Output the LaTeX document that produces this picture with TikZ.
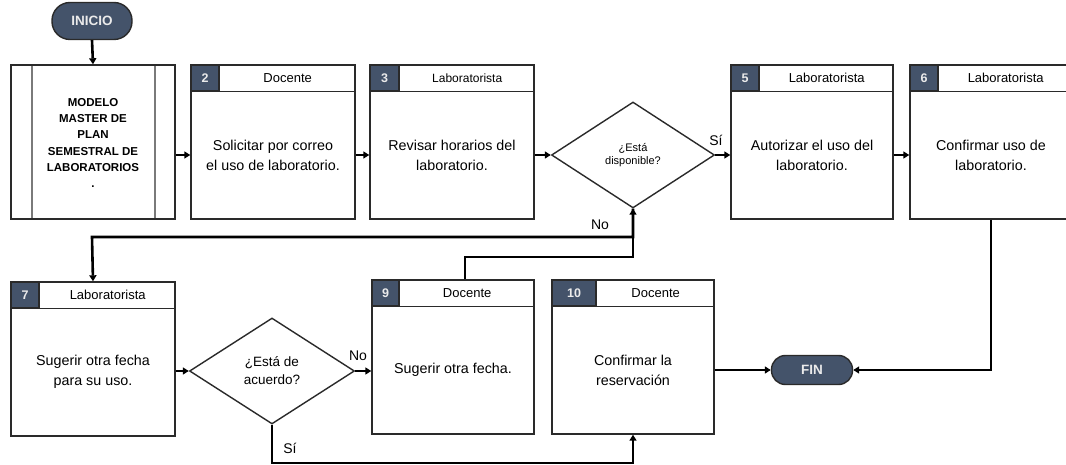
\documentclass[tikz,border=0pt]{standalone}
\usepackage{fontspec}
\setmainfont{Liberation Sans}
\usetikzlibrary{shapes.geometric,arrows.meta,calc}

\definecolor{slate}{HTML}{44536A}
\definecolor{rim}{HTML}{2A2A2A}
\definecolor{barline}{HTML}{7A7A7A}

\tikzset{
  card/.style={draw=rim, line width=1.4pt, fill=white, inner sep=0pt},
  numcell/.style={draw=rim, line width=1.4pt, fill=slate, inner sep=0pt,
    minimum height=26pt, text=white!92!black, font=\bfseries\fontsize{12.5}{14}\selectfont},
  roletext/.style={inner sep=0pt, font=\fontsize{13}{15}\selectfont},
  bodytext/.style={inner sep=0pt, align=center, font=\fontsize{14.3}{20}\selectfont},
  decision/.style={diamond, draw=rim, line width=1.4pt, inner sep=0pt, align=center},
  terminal/.style={draw=rim, line width=1.4pt, fill=slate, rounded corners=14pt,
    inner sep=0pt, text=white!92!black, font=\bfseries\fontsize{13.5}{15}\selectfont},
  conn/.style={draw=black, line width=2.6pt, -{Triangle[length=6pt,width=7pt]}},
  edgelabel/.style={inner sep=0pt, font=\fontsize{14}{16}\selectfont},
}

% card with a numbered header: name, cx, cy, width, height, number width, number, role, role font size
\newcommand\stepcard[9]{%
  \node[card, minimum width=#4pt, minimum height=#5pt] (#1) at (#2,#3) {};
  \node[numcell, minimum width=#6pt, anchor=north west] (#1-n) at (#1.north west) {#7};
  \draw[rim, line width=1.4pt] (#1-n.south east) -- (#1-n.south -| #1.east);
  \node[roletext] (#1-r) at ($(#1-n.east)!0.5!(#1-n.east -| #1.east)$) {\fontsize{#9}{15}\selectfont #8};
}
% body text of a card, centred below its header
\newcommand\cardbody[4]{%
  \node[bodytext] (#1-t) at (#2,{#3+13}) {#4};
}

\begin{document}
\begin{tikzpicture}[x=1pt,y=-1pt]
\clip (0,0) rectangle (1066,465);
\fill[white] (0,0) rectangle (1066,465);

% start and end
\node[terminal, minimum width=80pt, minimum height=37pt, rounded corners=18pt] (ini) at (92,21) {INICIO};
\node[terminal, minimum width=81pt, minimum height=29pt] (fin) at (812,370) {FIN};

% predefined process
\node[card, minimum width=164pt, minimum height=154pt] (b1) at (93,142) {};
\draw[barline, line width=2pt] (32,66) -- (32,218) (155,66) -- (155,218);
\node[inner sep=0pt, align=center, font=\bfseries\fontsize{11.5}{16.3}\selectfont] (b1-t) at (93,143)
  {MODELO\\MASTER DE\\PLAN\\SEMESTRAL DE\\LABORATORIOS\\.};

% first row
\stepcard{b2}{273}{142}{164}{154}{28}{2}{Docente}{13}
\cardbody{b2}{273}{142}{Solicitar por correo\\el uso de laboratorio.}
\stepcard{b3}{452}{142}{164}{154}{29}{3}{Laboratorista}{12}
\cardbody{b3}{452}{142}{Revisar horarios del\\laboratorio.}
\node[decision, minimum width=163pt, minimum height=106pt,
  font=\fontsize{11}{13}\selectfont] (d1) at (633,155) {¿Está\\disponible?};
\stepcard{b5}{812}{142}{162}{154}{28}{5}{Laboratorista}{13}
\cardbody{b5}{812}{142}{Autorizar el uso del\\laboratorio.}
\stepcard{b6}{991}{142}{162}{154}{28}{6}{Laboratorista}{13}
\cardbody{b6}{991}{142}{Confirmar uso de\\laboratorio.}

% second row
\stepcard{b7}{93}{359}{164}{154}{28}{7}{Laboratorista}{13}
\cardbody{b7}{93}{359}{Sugerir otra fecha\\para su uso.}
\node[decision, minimum width=165pt, minimum height=106pt,
  font=\fontsize{13.5}{18}\selectfont] (d2) at (272,371) {¿Está de\\acuerdo?};
\stepcard{b9}{453}{357}{162}{154}{27}{9}{Docente}{13}
\cardbody{b9}{453}{357}{Sugerir otra fecha.}
\stepcard{b10}{633}{357}{162}{154}{44}{10}{Docente}{13}
\cardbody{b10}{633}{357}{Confirmar la\\reservación}

% turning points
\coordinate (noturn) at (92,237);
\coordinate (backturn) at (465,257);
\coordinate (yesturn) at (272,463);

% connectors
\draw[conn] (ini.south) -- (b1.north);
\draw[conn] (b1.east |- b2-t) -- (b2.west |- b2-t);
\draw[conn] (b2.east |- b3-t) -- (b3.west |- b3-t);
\draw[conn] (b3.east |- d1) -- (d1.west);
\draw[conn] (d1.east) -- (b5.west |- d1);
\draw[conn] (b5.east |- b6-t) -- (b6.west |- b6-t);
\draw[conn] (b6.south) |- (fin.east);
\draw[conn] (d1.south) |- (noturn) -- (b7.north);
\draw[conn] (b9.north -| backturn) -- (backturn) -| (d1.south);
\draw[conn] (b7.east |- d2) -- (d2.west);
\draw[conn] (d2.east) -- (b9.west |- d2);
\draw[conn] (d2.south) -- (yesturn) -| (b10.south);
\draw[conn] (b10.east |- fin) -- (fin.west);

% branch labels
\node[edgelabel] (l-si1) at (716,140) {Sí};
\node[edgelabel] (l-no1) at (600,225) {No};
\node[edgelabel] (l-no2) at (358,356) {No};
\node[edgelabel] (l-si2) at (290,448) {Sí};
\end{tikzpicture}
\end{document}
